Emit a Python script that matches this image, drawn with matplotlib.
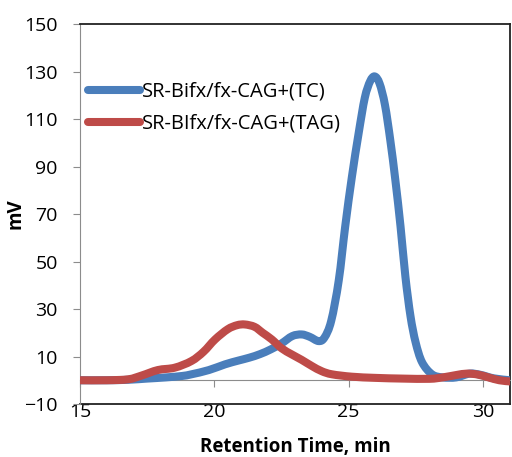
# chromatogram.py
#   HPLC traces of the two SR-Bifx constructs, Excel look (smoothed lines)

# imports
import matplotlib
matplotlib.use('Agg')
import matplotlib.pyplot as plt
from matplotlib import rcParams
from matplotlib.path import Path
from matplotlib.patches import PathPatch
from matplotlib.lines import Line2D
import numpy as np

# globals
rcParams['font.family'] = ['Open Sans', 'DejaVu Sans']
blue = '#4a7ebb'
red = '#be4b48'
grey = '#8c8c8c'

# data
tc_time = [15.0, 16.0, 16.8, 17.5, 18.2, 18.8, 19.15, 19.8, 20.4, 20.9, 21.3, 21.7,
           22.1, 22.5, 22.9, 23.25, 23.55, 23.88, 24.1, 24.35, 24.63, 24.87, 25.12,
           25.37, 25.6, 25.8, 25.97, 26.15, 26.35, 26.55, 26.74, 26.93, 27.11,
           27.3, 27.49, 27.73, 28.1, 28.5, 29.0, 29.5, 29.9, 30.4, 31.0]
tc_mv = [0.0, 0.0, 0.2, 0.7, 1.2, 1.8, 2.5, 4.3, 6.7, 8.3, 9.5, 11.0,
         13.0, 15.5, 18.6, 19.3, 18.3, 16.5, 18.0, 25.0, 42.0, 64.7, 85.7,
         104.0, 119.0, 126.0, 128.0, 125.0, 116.0, 101.0, 84.0, 64.7, 43.7,
         27.0, 16.0, 7.6, 2.5, 1.2, 1.2, 2.8, 2.3, 0.8, 0.0]

tag_time = [15.0, 16.0, 16.8, 17.3, 17.9, 18.53, 19.15, 19.6, 20.03, 20.5, 20.85,
            21.14, 21.5, 21.8, 22.14, 22.5, 22.88, 23.25, 23.63, 24.0, 24.38,
            25.12, 26.0, 27.0, 28.0, 28.5, 29.0, 29.4, 29.8, 30.2, 30.6, 31.0]
tag_mv = [0.0, 0.0, 0.4, 2.0, 4.3, 5.3, 8.1, 12.0, 17.2, 21.5, 23.2,
          23.5, 22.5, 20.0, 17.2, 13.5, 10.9, 8.6, 6.0, 3.8, 2.5,
          1.5, 1.0, 0.7, 0.6, 1.2, 2.2, 2.8, 2.4, 1.2, 0.0, -0.5]

series = [('SR-Bifx/fx-CAG+(TC)', tc_time, tc_mv, blue),
          ('SR-BIfx/fx-CAG+(TAG)', tag_time, tag_mv, red)]

y_ticks = list(range(-10, 151, 20))
x_ticks = [15, 20, 25, 30]


# functions
def smooth_path(xs, ys):
    # excel-like smoothed line: cubic bezier segments through the points
    p = np.column_stack([xs, ys]).astype(float)
    p = np.vstack([p[0], p, p[-1]])
    verts = [p[1]]
    codes = [Path.MOVETO]
    for i in range(1, len(p) - 2):
        c1 = p[i] + (p[i + 1] - p[i - 1]) / 6
        c2 = p[i + 1] - (p[i + 2] - p[i]) / 6
        verts += [c1, c2, p[i + 1]]
        codes += [Path.CURVE4] * 3
    return Path(verts, codes)


# figure
fig = plt.figure(figsize=(5.12, 4.57), dpi=100, facecolor='white')
ax = fig.add_axes([0.156, 0.116, 0.84, 0.831])

handles = []
for label, t, v, c in series:
    ax.add_patch(PathPatch(smooth_path(t, v), facecolor='none', edgecolor=c, lw=5.8,
                           capstyle='round', joinstyle='round', zorder=3))
    handles.append(Line2D([], [], color=c, lw=5.8, solid_capstyle='round', label=label))

ax.set_xlim(15, 31)
ax.set_ylim(-10, 150)
ax.set_yticks(y_ticks)
ax.set_xticks(x_ticks)

# excel style: category axis sits at y=0, labels stay at the bottom
ax.spines['bottom'].set_position(('data', 0))
ax.spines['bottom'].set_color(grey)
ax.spines['left'].set_color(grey)
ax.spines['top'].set_color('#222222')
ax.spines['right'].set_color('#222222')
ax.spines['top'].set_linewidth(1.3)
ax.spines['right'].set_linewidth(1.3)
ax.tick_params(axis='x', direction='out', length=5, color=grey, labelbottom=False)
ax.tick_params(axis='y', direction='out', length=5, color=grey, labelsize=14, pad=11)

sec = ax.secondary_xaxis(0.0)
sec.set_xticks(x_ticks)
sec.spines['bottom'].set_color('#222222')
sec.spines['bottom'].set_linewidth(1.3)
sec.tick_params(length=0, labelsize=14, pad=-1)
sec.set_xlabel('Retention Time, min', fontsize=13.5, fontweight='bold', labelpad=12)

ax.set_ylabel('mV', fontsize=13.5, fontweight='bold', labelpad=-1)

ax.legend(handles=handles, loc='upper left', frameon=False, fontsize=14.5,
          handlelength=2.6, handletextpad=0.1, labelspacing=0.6, borderaxespad=0.0,
          bbox_to_anchor=(0.0, 0.87))

fig.savefig('out.png', dpi=100, facecolor='white')
